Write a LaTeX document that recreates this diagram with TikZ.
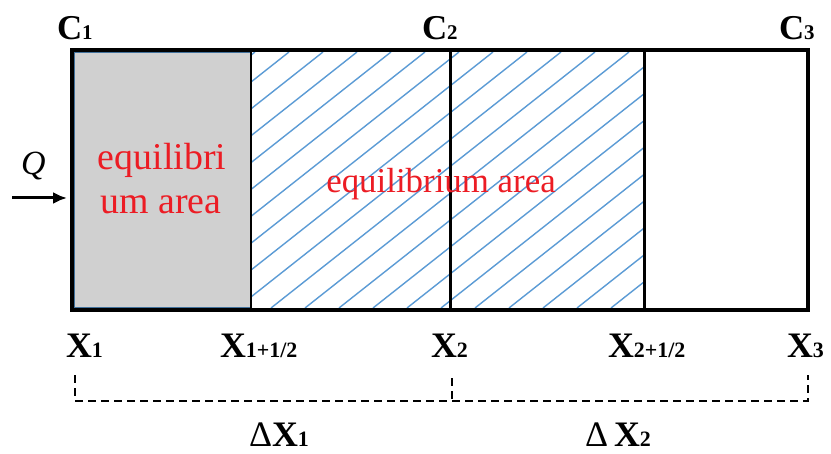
\documentclass[tikz,border=0pt]{standalone}
\usepackage{fontspec}
\setmainfont{Liberation Serif}
\usetikzlibrary{arrows.meta}
\definecolor{hatchblue}{RGB}{91,155,213}
\definecolor{boxgray}{RGB}{208,208,208}
\definecolor{grayedge}{RGB}{65,113,156}
\definecolor{labelred}{RGB}{236,28,36}
\newcommand{\clab}[1]{{\bfseries\fontsize{35}{38}\selectfont C\fontsize{21}{22}\selectfont #1}}
\newcommand{\xlab}[1]{{\bfseries\fontsize{36}{38}\selectfont X\fontsize{22}{24}\selectfont #1}}
\begin{document}
\begin{tikzpicture}[x=1bp,y=-1bp,
  lbl/.style={anchor=base west,inner sep=0pt,outer sep=0pt},
  redtxt/.style={text=labelred,inner sep=0pt,align=center},
  hatchline/.style={draw=hatchblue,line width=1.4bp},
  divider/.style={draw=black,line width=3bp},
  bracket/.style={draw=black,line width=2.2bp,dash pattern=on 8bp off 5bp},
  flow/.style={draw=black,line width=3bp,-{Latex[length=14bp,width=12bp]}}]
\useasboundingbox (0,0) rectangle (831,454);
\fill[white] (0,0) rectangle (831,454);
% gray equilibrium cell
\filldraw[fill=boxgray,draw=grayedge,line width=1.2bp] (74,52) rectangle (251,308);
% hatched region
\begin{scope}
  \clip (251,52) rectangle (644,308);
  \foreach \k in {-2,...,21} {
    \draw[hatchline] ({-35+34*\k},308) -- ++(324,-256);
  }
\end{scope}
% dividers
\draw[draw=black,line width=2bp] (251,50) -- (251,310);
\draw[divider] (450,50) -- (450,310);
\draw[divider] (644,50) -- (644,310);
% outer frame
\draw[line width=4.5bp] (72,50) rectangle (808,310);
% texts in cells
\node[redtxt,anchor=base] (eqa) at (162,170) {\fontsize{38}{44}\selectfont equilibri};
\node[redtxt,anchor=base] (eqb) at (161,214) {\fontsize{38}{44}\selectfont um area};
\node[redtxt,anchor=base] (eqm) at (441,193) {\fontsize{35}{40}\selectfont equilibrium area};
% C labels
\node[lbl] (c1) at (57,40) {\clab{1}};
\node[lbl] (c2) at (422,40) {\clab{2}};
\node[lbl] (c3) at (779,40) {\clab{3}};
% X labels
\node[lbl] (x1) at (66,358) {\xlab{1}};
\node[lbl] (x1h) at (220,358) {\xlab{1+1/2}};
\node[lbl] (x2) at (431,358) {\xlab{2}};
\node[lbl] (x2h) at (608,358) {\xlab{2+1/2}};
\node[lbl] (x3) at (787,358) {\xlab{3}};
% flow Q
\node[lbl] (q) at (21,175) {\fontsize{34}{36}\selectfont\itshape Q};
\coordinate (qs) at (12,198);
\coordinate (qe) at (67,198);
\draw[flow] (qs) -- (qe);
% bracket
\coordinate (b1t) at (75,375);
\coordinate (b1) at (75,401);
\coordinate (b2t) at (452,378);
\coordinate (b2) at (452,401);
\coordinate (b3t) at (808,375);
\coordinate (b3) at (808,401);
\draw[bracket] (b1t) -- (b1) -- (b3) -- (b3t);
\draw[bracket] (b2t) -- (b2);
% delta labels
\node[lbl] (dx1) at (249,446) {\fontsize{36}{38}\selectfont Δ\bfseries X\fontsize{22}{24}\selectfont 1};
\node[lbl] (dx2) at (585,446) {\fontsize{36}{38}\selectfont Δ\,\bfseries X\fontsize{22}{24}\selectfont 2};
\end{tikzpicture}
\end{document}
